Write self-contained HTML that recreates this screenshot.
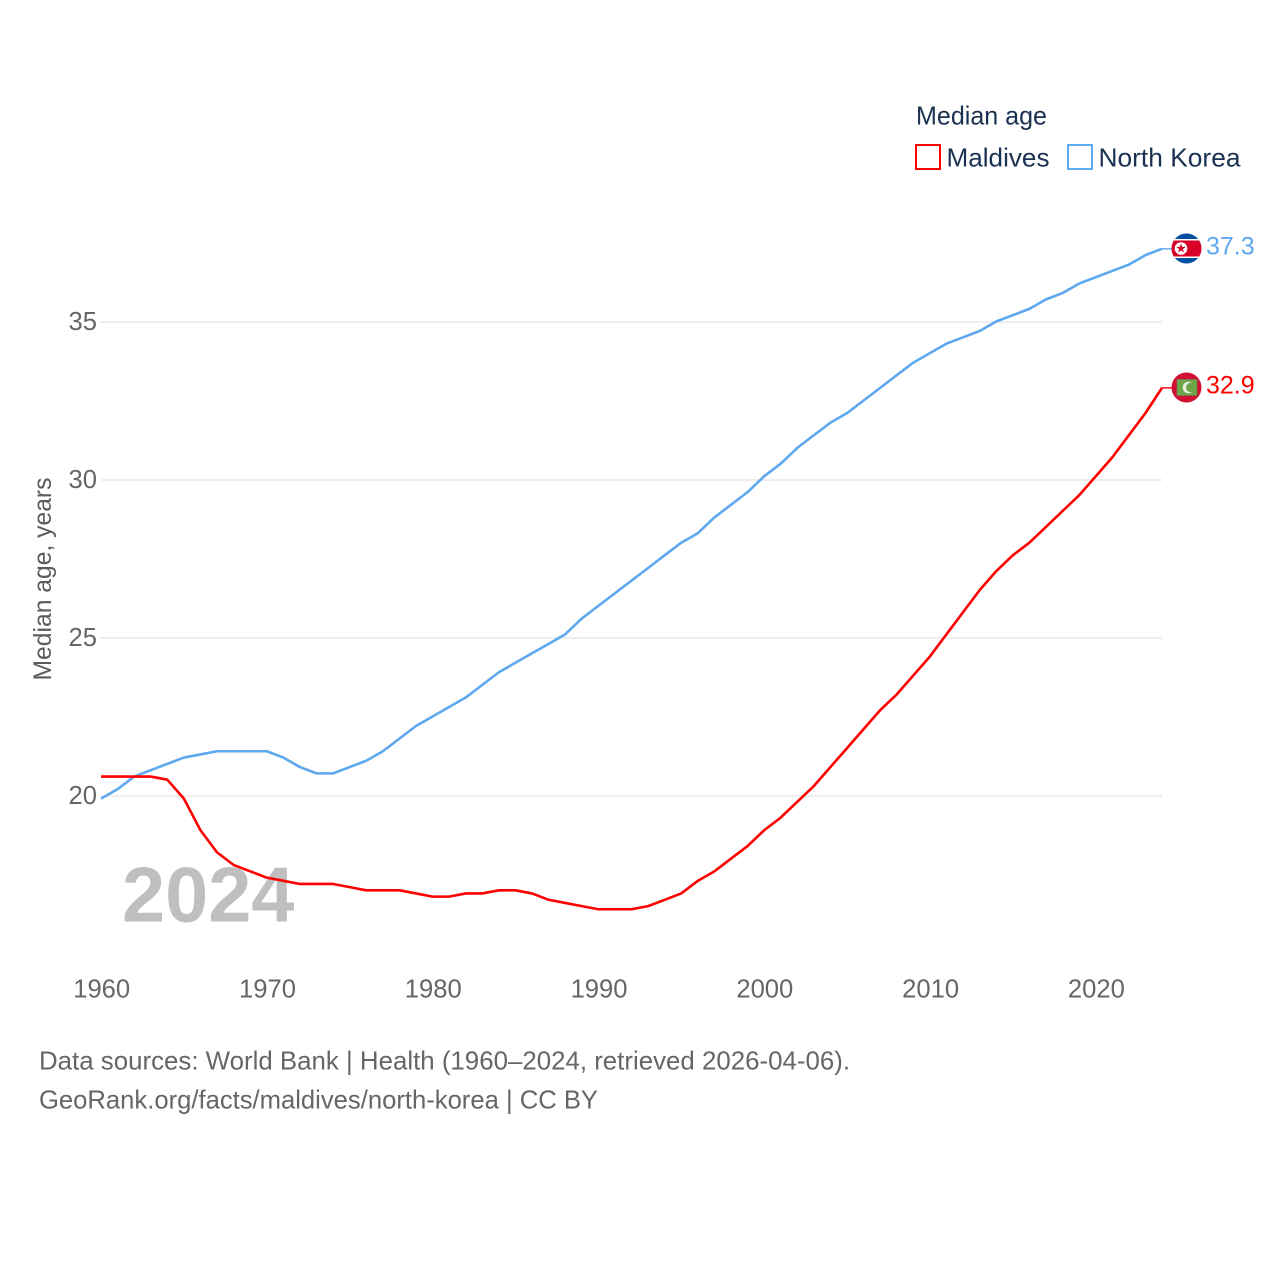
<!DOCTYPE html>
<html lang="en">
<head>
<meta charset="utf-8">
<title>Median age: Maldives and North Korea</title>
<style>
html,body{margin:0;padding:0;background:#fff;}
svg{display:block;}
text{font-family:"Liberation Sans",sans-serif;}
</style>
</head>
<body>
<svg id="chart" xmlns="http://www.w3.org/2000/svg" width="1280" height="1280" viewBox="0 0 1280 1280">
  <rect x="0" y="0" width="1280" height="1280" fill="#ffffff"/>
  <g id="grid"></g>
  <text transform="translate(51,579) rotate(-90)" text-anchor="middle" font-size="25" fill="#5b5b5b" textLength="203" lengthAdjust="spacingAndGlyphs">Median age, years</text>
  <g id="yticks"></g>
  <g id="xticks"></g>
  <text x="122" y="921.5" font-size="77.5" font-weight="bold" fill="#bfbfbf">2024</text>
  <g id="series"></g>
  <g id="endmarks"></g>

  <text x="916" y="124.5" font-size="26" fill="#1b3151" textLength="131" lengthAdjust="spacingAndGlyphs">Median age</text>
  <rect x="916" y="145" width="24" height="24" fill="#fff" stroke="#ff0000" stroke-width="2"/>
  <text x="946.5" y="166.5" font-size="26" fill="#1b3151" textLength="103" lengthAdjust="spacingAndGlyphs">Maldives</text>
  <rect x="1068" y="145" width="24" height="24" fill="#fff" stroke="#5ea8ef" stroke-width="2"/>
  <text x="1098.5" y="166.5" font-size="26" fill="#1b3151" textLength="142" lengthAdjust="spacingAndGlyphs">North Korea</text>

  <defs>
    <clipPath id="flag-clip-nk"><circle cx="1186.5" cy="248.5" r="15"/></clipPath>
  </defs>
  <g clip-path="url(#flag-clip-nk)">
    <rect x="1171" y="233" width="31" height="31" fill="#024fa2"/>
    <rect x="1171" y="239" width="31" height="19" fill="#ffffff"/>
    <rect x="1171" y="240.5" width="31" height="16" fill="#d80027"/>
    <circle cx="1181" cy="248.5" r="6.3" fill="#ffffff"/>
    <polygon points="1181,243.5 1182.2,246.9 1185.8,246.9 1182.9,249.1 1183.9,252.5 1181,250.5 1178.1,252.5 1179.1,249.1 1176.2,246.9 1179.8,246.9" fill="#d80027"/>
  </g>
  <g>
    <circle cx="1186.5" cy="387.5" r="15" fill="#d21034"/>
    <rect x="1177" y="379.5" width="20" height="16" fill="#6ea548" stroke="#6f7f5a" stroke-width="0.6"/>
    <circle cx="1188.5" cy="387.5" r="5.8" fill="#e8efe0"/>
    <circle cx="1191" cy="387.5" r="4.9" fill="#6ea548"/>
  </g>

  <text x="39" y="1069.5" font-size="26" fill="#666666" textLength="811" lengthAdjust="spacingAndGlyphs">Data sources: World Bank | Health (1960–2024, retrieved 2026-04-06).</text>
  <text x="39" y="1108.5" font-size="26" fill="#666666" textLength="559" lengthAdjust="spacingAndGlyphs">GeoRank.org/facts/maldives/north-korea | CC BY</text>
</svg>
<script>
const years = [1960,1961,1962,1963,1964,1965,1966,1967,1968,1969,1970,1971,1972,1973,1974,1975,1976,1977,1978,1979,1980,1981,1982,1983,1984,1985,1986,1987,1988,1989,1990,1991,1992,1993,1994,1995,1996,1997,1998,1999,2000,2001,2002,2003,2004,2005,2006,2007,2008,2009,2010,2011,2012,2013,2014,2015,2016,2017,2018,2019,2020,2021,2022,2023,2024];
const maldives = [20.6,20.6,20.6,20.6,20.5,19.9,18.9,18.2,17.8,17.6,17.4,17.3,17.2,17.2,17.2,17.1,17.0,17.0,17.0,16.9,16.8,16.8,16.9,16.9,17.0,17.0,16.9,16.7,16.6,16.5,16.4,16.4,16.4,16.5,16.7,16.9,17.3,17.6,18.0,18.4,18.9,19.3,19.8,20.3,20.9,21.5,22.1,22.7,23.2,23.8,24.4,25.1,25.8,26.5,27.1,27.6,28.0,28.5,29.0,29.5,30.1,30.7,31.4,32.1,32.9];
const northKorea = [19.9,20.2,20.6,20.8,21.0,21.2,21.3,21.4,21.4,21.4,21.4,21.2,20.9,20.7,20.7,20.9,21.1,21.4,21.8,22.2,22.5,22.8,23.1,23.5,23.9,24.2,24.5,24.8,25.1,25.6,26.0,26.4,26.8,27.2,27.6,28.0,28.3,28.8,29.2,29.6,30.1,30.5,31.0,31.4,31.8,32.1,32.5,32.9,33.3,33.7,34.0,34.3,34.5,34.7,35.0,35.2,35.4,35.7,35.9,36.2,36.4,36.6,36.8,37.1,37.3];
const xTickLabels = [1960,1970,1980,1990,2000,2010,2020];
const yTickLabels = [20,25,30,35];

const NS = 'http://www.w3.org/2000/svg';
function xScale(year){ return 101 + (year - 1960) * (1162 - 101) / 64; }
function yScale(value){ return 796 - (value - 20) * 31.6; }
function make(tag, attrs, parent, content){
  const el = document.createElementNS(NS, tag);
  for (const k in attrs) el.setAttribute(k, attrs[k]);
  if (content !== undefined) el.textContent = content;
  parent.appendChild(el);
  return el;
}

const gridGroup = document.getElementById('grid');
const yTickGroup = document.getElementById('yticks');
yTickLabels.forEach(function(v){
  const line = make('line', {x1:101, x2:1162, y1:yScale(v), y2:yScale(v), stroke:'#eeeeee', 'stroke-width':2}, gridGroup);
  
  
  const label = make('text', {x:97, y:yScale(v)+8, 'text-anchor':'end', 'font-size':25.6, fill:'#666666'}, yTickGroup, String(v));
  
  
});

const xTickGroup = document.getElementById('xticks');
xTickLabels.forEach(function(v){
  const label = make('text', {x:xScale(v)+0.7, y:997.5, 'text-anchor':'middle', 'font-size':25.6, fill:'#666666'}, xTickGroup, String(v));
  
  
});

function linePath(values){
  return values.map(function(v,i){ return (i ? 'L' : 'M') + xScale(years[i]).toFixed(2) + ' ' + (yScale(v) - 0.5).toFixed(2); }).join(' ');
}
const seriesGroup = document.getElementById('series');
const northKoreaLine = make('path', {d:linePath(northKorea), fill:'none', stroke:'#5ea8ef', 'stroke-width':2.6, 'stroke-linejoin':'round'}, seriesGroup);


const maldivesLine = make('path', {d:linePath(maldives), fill:'none', stroke:'#ff0000', 'stroke-width':2.6, 'stroke-linejoin':'round'}, seriesGroup);



const endGroup = document.getElementById('endmarks');
const nkLast = northKorea[northKorea.length - 1];
const mvLast = maldives[maldives.length - 1];
const nkConnector = make('line', {x1:1162, x2:1172, y1:yScale(nkLast)-0.5, y2:yScale(nkLast)-0.5, stroke:'#5ea8ef', 'stroke-width':1.4}, endGroup);


const mvConnector = make('line', {x1:1162, x2:1172, y1:yScale(mvLast)-0.5, y2:yScale(mvLast)-0.5, stroke:'#ff0000', 'stroke-width':1.4}, endGroup);


const nkValue = make('text', {x:1206, y:yScale(nkLast)+5, 'font-size':25, fill:'#5ea8ef'}, endGroup, nkLast.toFixed(1));


const mvValue = make('text', {x:1206, y:yScale(mvLast)+5, 'font-size':25, fill:'#ff0000'}, endGroup, mvLast.toFixed(1));


</script>
</body>
</html>
